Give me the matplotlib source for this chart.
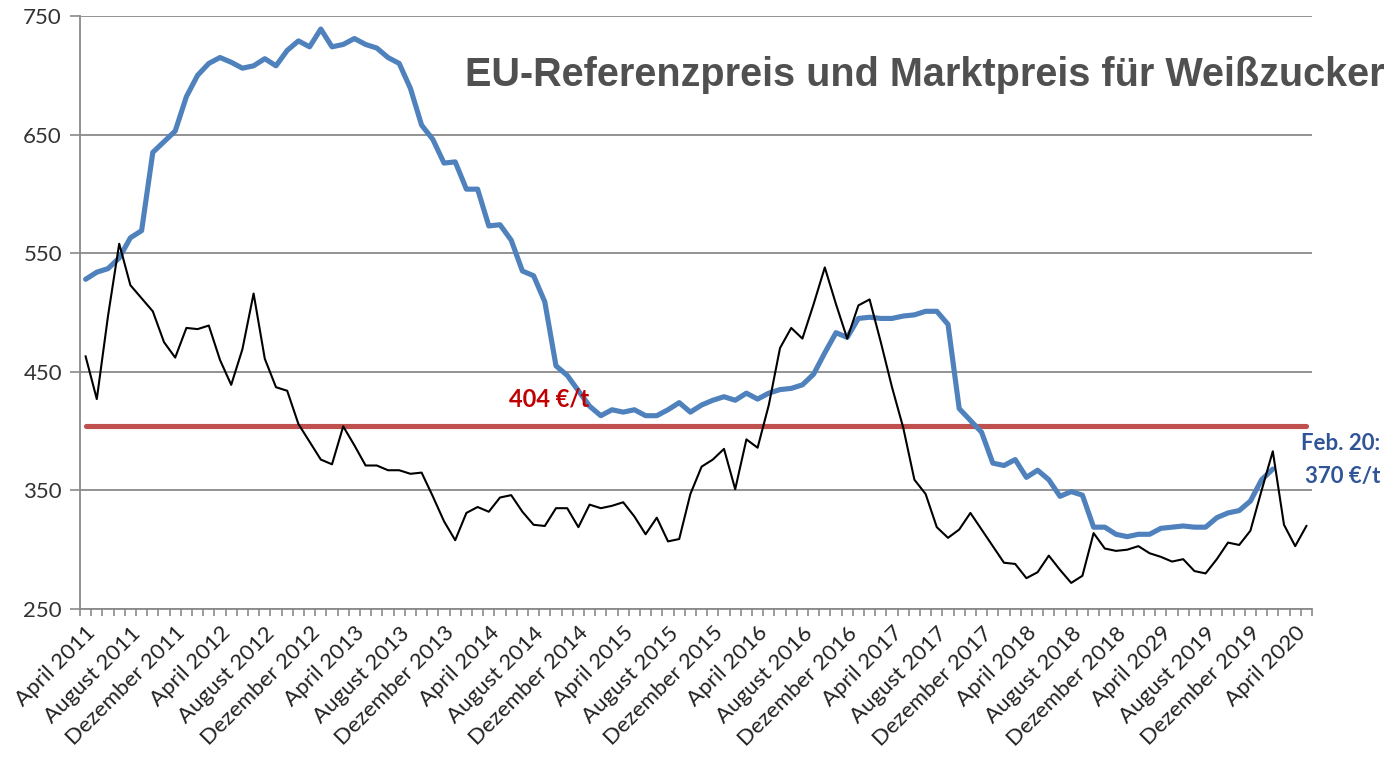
import matplotlib
matplotlib.use("Agg")
import matplotlib.pyplot as plt
import numpy as np

plt.rcParams["font.family"] = ["Lato", "DejaVu Sans"]

# Monatswerte April 2011 .. Mai 2020
markt = [463, 427, 497, 558, 523, 512, 501, 475, 462, 487,
         486, 489, 460, 439, 469, 516, 461, 437, 434, 406,
         391, 376, 372, 404, 388, 371, 371, 367, 367, 364,
         365, 345, 324, 308, 331, 336, 332, 344, 346, 332,
         321, 320, 335, 335, 319, 338, 335, 337, 340, 328,
         313, 327, 307, 309, 347, 370, 376, 385, 351, 393,
         386, 422, 470, 487, 478, 507, 538, 507, 478, 506,
         511, 475, 437, 403, 359, 347, 319, 310, 317, 331,
         317, 303, 289, 288, 276, 281, 295, 283, 272, 278,
         314, 301, 299, 300, 303, 297, 294, 290, 292, 282,
         280, 292, 306, 304, 316, 350, 383, 321, 303, 320]

# EU-Durchschnittspreis (bis Feb. 2020)
eu_preis = [528, 534, 537, 546, 563, 569, 635, 644, 653, 682,
            700, 710, 715, 711, 706, 708, 714, 708, 721, 729,
            724, 739, 724, 726, 731, 726, 723, 715, 710, 689,
            658, 646, 626, 627, 604, 604, 573, 574, 561, 535,
            531, 509, 455, 447, 434, 421, 413, 418, 416, 418,
            413, 413, 418, 424, 416, 422, 426, 429, 426, 432,
            427, 432, 435, 436, 439, 448, 466, 483, 479, 495,
            496, 495, 495, 497, 498, 501, 501, 490, 419, 409,
            399, 373, 371, 376, 361, 367, 359, 345, 349, 346,
            319, 319, 313, 311, 313, 313, 318, 319, 320, 319,
            319, 327, 331, 333, 341, 359, 368]

referenz = 404

x_labels = ["April 2011", "August 2011", "Dezember 2011", "April 2012", "August 2012",
            "Dezember 2012", "April 2013", "August 2013", "Dezember 2013", "April 2014",
            "August 2014", "Dezember 2014", "April 2015", "August 2015", "Dezember 2015",
            "April 2016", "August 2016", "Dezember 2016", "April 2017", "August 2017",
            "Dezember 2017", "April 2018", "August 2018", "Dezember 2018", "April 2029",
            "August 2019", "Dezember 2019", "April 2020"]
y_ticks = [250, 350, 450, 550, 650, 750]

GRID = "#8a8a8a"

fig = plt.figure(figsize=(13.91, 7.57), dpi=100)
ax = fig.add_axes([80 / 1391, 1 - 609 / 757, 1232 / 1391, 593 / 757])

n = len(markt)
xm = np.arange(n)
ax.plot(np.arange(len(eu_preis)), eu_preis, color="#4F81BD", lw=3.7,
        solid_joinstyle="round", solid_capstyle="round", zorder=3)
ax.plot(xm, markt, color="black", lw=1.5, zorder=4)
ax.plot([0, n - 1], [referenz, referenz], color="#C0504D", lw=3.7,
        solid_capstyle="round", zorder=2)

ax.set_xlim(-0.5, n - 0.5)
ax.set_ylim(250, 750)
ax.set_yticks(y_ticks)
ax.set_yticklabels([str(v) for v in y_ticks], fontsize=16, color="#333333")
ax.yaxis.grid(True, color=GRID, lw=1.3)
ax.set_axisbelow(True)

ax.set_xticks(np.arange(0, n, 4)[:len(x_labels)])
ax.set_xticklabels(x_labels, rotation=45, ha="right", rotation_mode="anchor",
                   fontsize=16, color="#222222")
ax.set_xticks(np.arange(-0.5, n, 1), minor=True)
ax.tick_params(axis="x", which="major", length=0, pad=10)
ax.tick_params(axis="x", which="minor", length=5, width=1.2, color=GRID, direction="out")
ax.tick_params(axis="y", length=7, width=1.2, color=GRID, pad=6)

for s in ["top", "right"]:
    ax.spines[s].set_visible(False)
for s in ["left", "bottom"]:
    ax.spines[s].set_color(GRID)
    ax.spines[s].set_linewidth(1.3)

ax.text(41.4, 427, "404 €/t", color="#C00000", fontsize=17, fontweight="bold",
        ha="center", va="center")
fig.text(1380 / 1391, 1 - 443 / 757, "Feb. 20:", color="#2F5597", fontsize=16,
         fontweight="bold", ha="right", va="center")
fig.text(1380 / 1391, 1 - 476 / 757, "370 €/t", color="#2F5597", fontsize=16,
         fontweight="bold", ha="right", va="center")

fig.text(1385 / 1391, 1 - 75 / 757, "EU-Referenzpreis und Marktpreis für Weißzucker",
         family=["Liberation Sans", "DejaVu Sans"], fontsize=28.5, fontweight="bold",
         color="#505050", ha="right", va="center")

fig.savefig("out.png", dpi=100)
